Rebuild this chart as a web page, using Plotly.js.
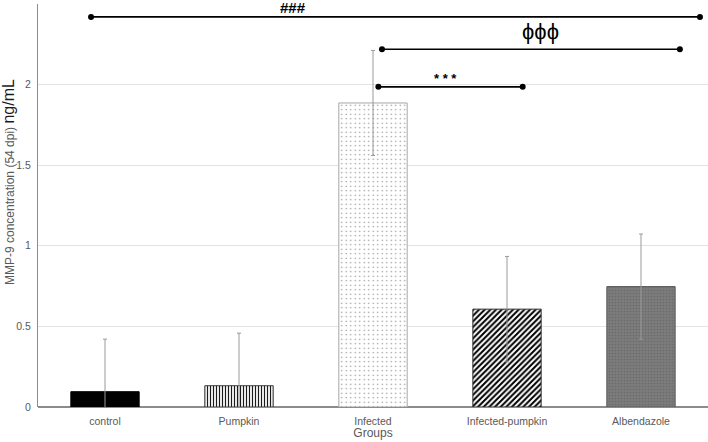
<!DOCTYPE html>
<html><head><meta charset="utf-8">
<script src="https://cdn.plot.ly/plotly-3.0.1.min.js"></script>
<style>body{margin:0;background:#fff}#c{width:708px;height:442px}</style>
</head><body><div id="c"></div>
<script>
const groups = ["control", "Pumpkin", "Infected", "Infected-pumpkin", "Albendazole"];
const means = [0.095, 0.132, 1.886, 0.607, 0.747];
const sems = [0.326, 0.326, 0.326, 0.327, 0.326];
const yTicks = [0, 0.5, 1, 1.5, 2, 2.5];
const yTickLabels = ["0", "0.5", "1", "1.5", "2", "2.5"];

// significance brackets: [x0, x1] (group index units), y level, label, label position
const sigX = [[-0.104, 4.44], [2.067, 4.29], [2.04, 3.117]];
const sigY = [2.42, 2.219, 1.986];
const sigText = ["<b>###</b>", "ϕϕϕ", "<b>* * *</b>"];
const sigTextX = [1.40, 3.25, 2.54];
const sigTextY = [2.478, 2.33, 2.04];

// styles per bar
const fillColor = ["#000000", "#ffffff", "#ffffff", "#ffffff", "#7c7c7c"];
const lineColor = ["#000000", "#3a3a3a", "#a6a6a6", "#303030", "#5a5a5a"];
const patShape = ["", "|", ".", "/", "."];
const patFg = ["#000000", "#1a1a1a", "#8a8a8a", "#000000", "#6a6a6a"];
const patSize = [6, 3, 4.5, 4, 3];
const patSolid = [0.3, 0.4, 0.08, 0.5, 0.25];

const idx = groups.map((g, i) => i);
const traces = [];
groups.forEach((g, i) => {
  const m = {color: fillColor[i], line: {color: lineColor[i], width: 1}};
  if (patShape[i]) m.pattern = {shape: patShape[i], fgcolor: patFg[i], bgcolor: fillColor[i],
    size: patSize[i], solidity: patSolid[i], fillmode: "replace"};
  traces.push({type: "bar", x: [idx[i]], y: [means[i]], width: 0.51, name: g,
    error_y: {type: "data", array: [sems[i]], visible: true, color: "#9a9a9a", thickness: 1, width: 2},
    marker: m, hoverinfo: "skip", showlegend: false});
});
for (let i = 0; i < sigX.length; i++) {
  traces.push({type: "scatter", mode: "lines+markers", x: sigX[i], y: [sigY[i], sigY[i]],
    line: {color: "#000", width: 1.6}, marker: {color: "#000", size: 6},
    showlegend: false, hoverinfo: "skip", cliponaxis: false});
}
const sigSize = [15, 22, 13];
const annotations = sigText.map((t, i) => ({x: sigTextX[i], y: sigTextY[i], xref: "x", yref: "y",
  text: t, showarrow: false, font: {family: "Liberation Sans, Arial", size: sigSize[i], color: "#000"}}));
annotations.push({xref: "paper", yref: "paper", x: (9 - 38) / 670, y: (407 - 182) / 403,
  textangle: -90, showarrow: false, xanchor: "center", yanchor: "middle",
  text: "MMP-9 concentration (54 dpi) <span style='font-size:16px;color:#1a1a1a'>ng/mL</span>",
  font: {family: "Liberation Sans, Arial", size: 12, color: "#595959"}});

const layout = {
  width: 708, height: 442,
  margin: {l: 38, r: 0, t: 4, b: 35},
  paper_bgcolor: "#fff", plot_bgcolor: "#fff",
  font: {family: "Liberation Sans, Arial", color: "#595959", size: 10},
  barmode: "overlay",
  xaxis: {
    range: [-0.5, 4.5], tickvals: idx, ticktext: groups, showgrid: false, zeroline: false,
    showline: false, ticks: "", tickfont: {size: 10.5, color: "#595959"}, ticklabelstandoff: 6,
    title: {text: "Groups", font: {size: 12, color: "#595959"}, standoff: 2},
    automargin: false
  },
  yaxis: {
    range: [0, 2.5], tickvals: yTicks, ticktext: yTickLabels,
    showgrid: true, gridcolor: "#e3e3e3", gridwidth: 1,
    zeroline: true, zerolinecolor: "#8c8c8c", zerolinewidth: 2,
    showline: true, linecolor: "#8c8c8c", linewidth: 1,
    ticks: "", tickfont: {size: 10.5, color: "#595959"}, ticklabelstandoff: 4,
    automargin: false
  },
  annotations: annotations
};
Plotly.newPlot("c", traces, layout, {displayModeBar: false, staticPlot: true});
</script></body></html>
